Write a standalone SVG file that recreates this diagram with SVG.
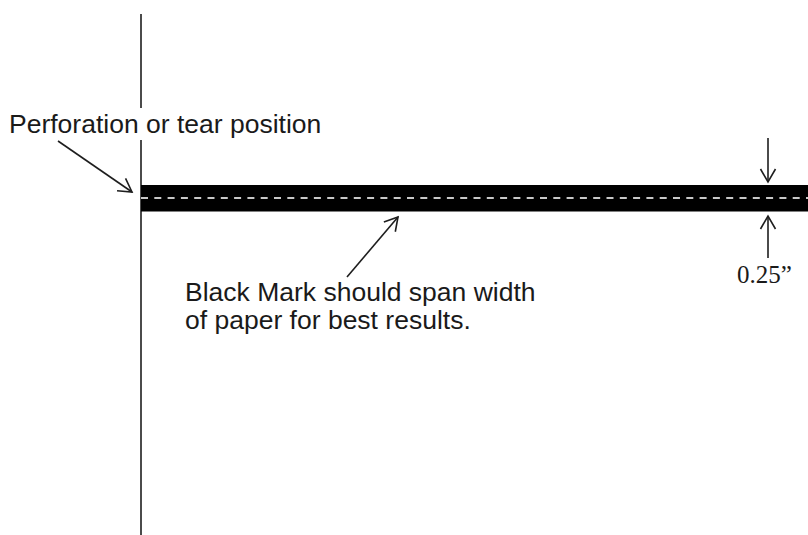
<svg xmlns="http://www.w3.org/2000/svg" width="808" height="535" viewBox="0 0 808 535">
  <style>
    .lbl { font-family: "Liberation Sans", Arial, sans-serif; font-size: 26.5px; fill: #1a1a1a; }
    .dim { font-family: "Liberation Serif", "Times New Roman", serif; font-size: 25px; fill: #1a1a1a; }
    .ln { stroke: #1e1e1e; stroke-width: 1.6; fill: none; }
  </style>
  <defs>
    <marker id="arr" markerUnits="userSpaceOnUse" viewBox="-15 -10 17 20" refX="0" refY="0" markerWidth="17" markerHeight="20" orient="auto">
      <path d="M-13,-7.5 L0,0 L-13,7.5" fill="none" stroke="#1e1e1e" stroke-width="1.6"/>
    </marker>
  </defs>
  <rect width="808" height="535" fill="#ffffff"/>

  <g id="paper-edge">
    <line class="ln" x1="141" y1="14" x2="141" y2="108"/>
    <line class="ln" x1="141" y1="140" x2="141" y2="535"/>
  </g>

  <g id="black-mark">
    <rect x="141" y="185" width="667" height="26.5" fill="#000000"/>
    <line x1="141" y1="198" x2="808" y2="198" stroke="#c8c8c8" stroke-width="2" stroke-dasharray="7 6.3"/>
  </g>

  <g id="perforation-label">
    <text class="lbl" x="9" y="133">Perforation or tear position</text>
  </g>

  <g id="blackmark-label">
    <text class="lbl" x="185" y="301">Black Mark should span width</text>
    <text class="lbl" x="185" y="329">of paper for best results.</text>
  </g>

  <g id="dimension-label">
    <text class="dim" x="737" y="283">0.25”</text>
  </g>

  <g id="connectors">
    <line class="ln" x1="58" y1="141" x2="132" y2="192" marker-end="url(#arr)"/>
    <line class="ln" x1="347" y1="277" x2="398" y2="217" marker-end="url(#arr)"/>
    <line class="ln" x1="768" y1="138" x2="768" y2="182" marker-end="url(#arr)"/>
    <line class="ln" x1="768" y1="258" x2="768" y2="216" marker-end="url(#arr)"/>
  </g>
</svg>
